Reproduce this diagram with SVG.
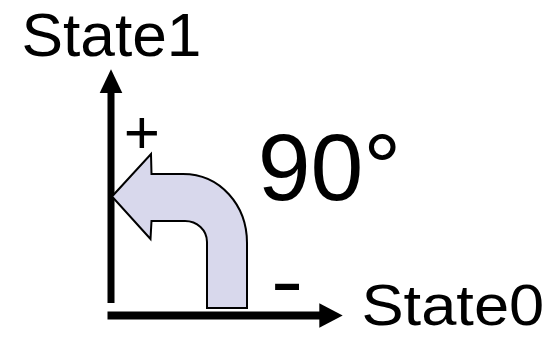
<svg xmlns="http://www.w3.org/2000/svg" width="546" height="339" viewBox="0 0 546 339">
<style>
.t{font-family:"Liberation Sans",Arial,sans-serif;fill:#000}
.ax{stroke:#000;fill:none}
.ah{fill:#000;stroke:none}
</style>
<rect width="546" height="339" fill="#fff"/>
<g id="connectors">
<line class="ax" x1="111" y1="303" x2="111" y2="92" stroke-width="7"/>
<polygon class="ah" points="99.7,93 122.3,93 111,69.3"/>
<line class="ax" x1="107.5" y1="315.5" x2="320" y2="315.5" stroke-width="8"/>
<polygon class="ah" points="319.3,303.3 342.7,315.5 319.3,327.7"/>
</g>
<g id="rotation-arrow">
<path d="M112,196.5 L151,154 L151.5,174 L183,174 C220,174 247,205 247,243 L247,308 L207,308 L207,242 C207,230 197,221 185,221 L151.5,221 L150.5,239 Z" fill="#d8d8ec" stroke="#000" stroke-width="2" stroke-linejoin="miter"/>
</g>
<g id="label-state1"><text class="t" x="21.5" y="55.5" font-size="62" textLength="180" lengthAdjust="spacingAndGlyphs">State1</text></g>
<g id="label-state0"><text class="t" x="361.4" y="325" font-size="57" textLength="182.9" lengthAdjust="spacingAndGlyphs">State0</text></g>
<g id="label-plus"><text class="t" x="123.8" y="152.9" font-size="62">+</text></g>
<g id="label-minus"><text class="t" x="270.7" y="307.7" font-size="80" textLength="32.6" lengthAdjust="spacingAndGlyphs">-</text></g>
<g id="label-angle"><text class="t" x="257.7" y="199.5" font-size="95">90°</text></g>
</svg>
